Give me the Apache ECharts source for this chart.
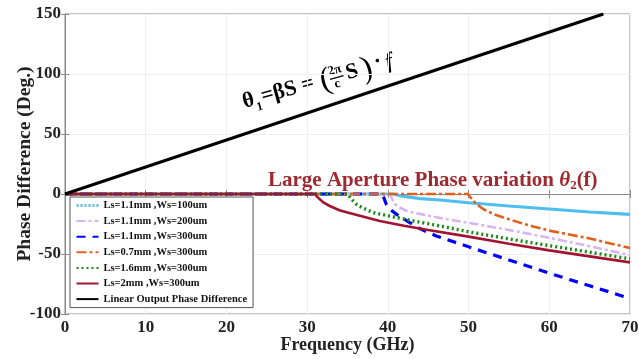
<!DOCTYPE html>
<html>
<head>
<meta charset="utf-8">
<script src="https://cdn.jsdelivr.net/npm/echarts@6/dist/echarts.min.js"></script>
<style>html,body{margin:0;padding:0;background:#fff}#c{width:639px;height:359px}</style>
</head>
<body>
<div id="c"></div>
<script>
// ---- data (Frequency GHz, Phase Difference deg) ----
const seriesNames = [
  'Ls=1.1mm ,Ws=100um',
  'Ls=1.1mm ,Ws=200um',
  'Ls=1.1mm ,Ws=300um',
  'Ls=0.7mm ,Ws=300um',
  'Ls=1.6mm ,Ws=300um',
  'Ls=2mm ,Ws=300um',
  'Linear Output Phase Difference'
];
const ls11ws100 = [[0,0],[40.7,0],[41.3,-1],[42,-2],[44,-3.8],[46.5,-5],[50,-7.3],[55,-10],[60,-12.5],[65,-15],[70,-17]];
const ls11ws200 = [[0,0],[40.3,0],[40.5,-4],[40.9,-8.5],[41.5,-11.5],[42.3,-14],[43.3,-15.8],[44.4,-17.2],[46.5,-20],[50,-24],[55,-30],[60,-36.5],[65,-43.5],[70,-51]];
const ls11ws300 = [[0,0],[39.3,0],[39.5,-3],[39.8,-8.5],[40.3,-13],[41.1,-17],[42.5,-23],[44,-29],[46,-35],[50,-44],[55,-55],[60,-66],[65,-76.5],[70,-87]];
const ls07ws300 = [[0,0],[49.9,0],[50.2,-2.5],[50.6,-5.5],[51,-8.5],[51.6,-11.5],[52.2,-14],[53.2,-17],[54.3,-19.5],[56.4,-24],[58,-27],[60,-30.5],[64.6,-36.5],[70,-45]];
const ls16ws300 = [[0,0],[35,0],[35.3,-2.5],[35.6,-5],[36.1,-8.5],[37,-12],[38.2,-15.5],[40.3,-18.5],[43.2,-22.5],[46,-26],[50,-31.5],[55,-37.5],[60,-43],[65,-48.5],[70,-54]];
const ls20ws300 = [[0,0],[31,0],[31.2,-2],[31.5,-4],[32,-7],[32.8,-10],[34,-13.5],[35,-15.5],[37,-19],[39,-22.5],[42,-26.5],[45,-30],[50,-35.5],[55,-41.5],[60,-47],[65,-52],[70,-57]];
const linearOut = [[0,0],[66.7,150]];
const xTicks = [0,10,20,30,40,50,60,70];
const yTicks = [-100,-50,0,50,100,150];

const serif = '"Liberation Serif","Times New Roman",serif';
const colors = ['#4DBEEE','#D8B4F2','#0000FF','#E2601E','#138A13','#A2142F','#000000'];
const widths = [3.2, 2.6, 3.2, 2.6, 3.4, 2.6, 3];
const types = ['solid', [9,3,3,3], [9,7], [10,3,3,3], [2,3], 'solid', 'solid'];
const datas = [ls11ws100, ls11ws200, ls11ws300, ls07ws300, ls16ws300, ls20ws300, linearOut];

const series = datas.map((d,i)=>({
  name: seriesNames[i], type:'line', data:d, showSymbol:false, symbol:'none',
  smooth:false,
  lineStyle:{color:colors[i], width:widths[i], type:types[i]},
  itemStyle:{color:colors[i]}, animation:false
}));

const chart = echarts.init(document.getElementById('c'), null, {renderer:'canvas'});
const axisLab = {fontFamily:serif, fontWeight:'bold', fontSize:17, color:'#222'};
const legendData = seriesNames.map((n,i)=> i===0 ? {name:n, lineStyle:{type:[2,2], width:3, color:colors[0]}} : {name:n});
chart.setOption({
  animation:false,
  backgroundColor:'#fff',
  grid:{left:65, right:9, top:14, bottom:45, show:true, borderColor:'#8a8a8a', borderWidth:1, outerBoundsMode:'none', containLabel:false},
  xAxis:[{
    type:'value', min:xTicks[0], max:xTicks[xTicks.length-1], interval:10,
    axisLine:{show:true, lineStyle:{color:'#8a8a8a'}}, axisTick:{inside:true, length:4, lineStyle:{color:'#8a8a8a'}},
    axisLabel:Object.assign({margin:5}, axisLab),
    splitLine:{show:true, lineStyle:{color:'#efefef'}},
    name:'Frequency (GHz)', nameLocation:'middle', nameGap:22, nameMoveOverlap:false,
    nameTextStyle:{fontFamily:serif, fontWeight:'bold', fontSize:18, color:'#222'}
  },{
    type:'value', position:'top', min:0, max:70, interval:10,
    axisLine:{show:true, lineStyle:{color:'#8a8a8a'}}, axisTick:{inside:true, length:4, lineStyle:{color:'#8a8a8a'}},
    axisLabel:{show:false}, splitLine:{show:false}
  }],
  yAxis:[{
    type:'value', min:yTicks[0], max:yTicks[yTicks.length-1], interval:50,
    axisLine:{show:true, lineStyle:{color:'#8a8a8a'}}, axisTick:{inside:true, length:4, lineStyle:{color:'#8a8a8a'}},
    axisLabel:Object.assign({margin:4}, axisLab),
    splitLine:{show:true, lineStyle:{color:'#efefef'}},
    name:'Phase Difference (Deg.)', nameLocation:'middle', nameGap:30, nameMoveOverlap:false,
    nameTextStyle:{fontFamily:serif, fontWeight:'bold', fontSize:19.5, color:'#222'}
  },{
    type:'value', position:'right', min:-100, max:150, interval:50,
    axisLine:{show:true, lineStyle:{color:'#8a8a8a'}}, axisTick:{inside:true, length:4, lineStyle:{color:'#8a8a8a'}},
    axisLabel:{show:false}, splitLine:{show:false}
  }],
  legend:{
    show:true, orient:'vertical', left:70, top:197, padding:[3,6,3,5],
    itemWidth:22, itemHeight:8, itemGap:4.6,
    itemStyle:{opacity:0},
    backgroundColor:'#fff', borderColor:'#555', borderWidth:1,
    textStyle:{fontFamily:serif, fontWeight:'bold', fontSize:10.5, color:'#111'},
    data: legendData
  },
  series: series,
  graphic:[
    {type:'text', left:268, top:170, z:100, style:{
      text:'{a|Large Aperture Phase variation }{t|θ}{s|2}{a|(f)}',
      rich:{
        a:{fontFamily:serif, fontWeight:'bold', fontSize:21, fill:'#9E2A2F'},
        t:{fontFamily:serif, fontWeight:'bold', fontStyle:'italic', fontSize:21, fill:'#9E2A2F'},
        s:{fontFamily:serif, fontWeight:'bold', fontSize:13, fill:'#9E2A2F', padding:[11,0,0,0]}
      }
    }},
    {type:'group', x:246, y:113, rotation:0.27, z:100, children:[
      {type:'text', x:0, y:0, style:{text:'θ', font:'bold 22px '+serif, fill:'#000', verticalAlign:'bottom'}},
      {type:'text', x:12, y:4, style:{text:'1', font:'bold 12px '+serif, fill:'#000', verticalAlign:'bottom'}},
      {type:'text', x:19, y:0, style:{text:'=βS =', font:'bold 22px '+serif, fill:'#000', verticalAlign:'bottom'}},
      {type:'text', x:80, y:6, style:{text:'(', font:'32px '+serif, fill:'#000', verticalAlign:'bottom'}},
      {type:'text', x:90, y:-11, style:{text:'2π', font:'bold 13px '+serif, fill:'#000', verticalAlign:'bottom'}},
      {type:'line', shape:{x1:90, y1:-10, x2:104, y2:-10}, style:{stroke:'#000', lineWidth:1.2}},
      {type:'text', x:93, y:3, style:{text:'c', font:'bold 13px '+serif, fill:'#000', verticalAlign:'bottom'}},
      {type:'text', x:107, y:0, style:{text:'S', font:'bold 22px '+serif, fill:'#000', verticalAlign:'bottom'}},
      {type:'text', x:123, y:6, style:{text:')', font:'32px '+serif, fill:'#000', verticalAlign:'bottom'}},
      {type:'text', x:137, y:-3, style:{text:'·', font:'bold 22px '+serif, fill:'#000', verticalAlign:'bottom'}},
      {type:'text', x:148, y:0, style:{text:'f', font:'italic bold 22px '+serif, fill:'#000', verticalAlign:'bottom'}}
    ]}
  ]
});
</script>
</body>
</html>
